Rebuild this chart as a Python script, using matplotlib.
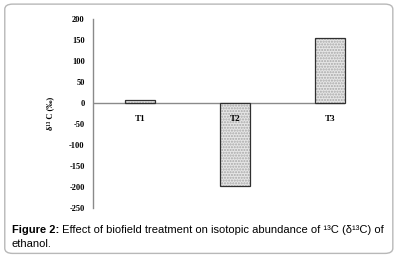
import matplotlib.pyplot as plt
from matplotlib.patches import FancyBboxPatch

# 数据
groups = ["T1", "T2", "T3"]
delta13c = [6, -198, 155]
y_ticks = [200, 150, 100, 50, 0, -50, -100, -150, -200, -250]

serif = ["Liberation Serif", "DejaVu Serif"]
sans = ["Liberation Sans", "DejaVu Sans"]

fig = plt.figure(figsize=(3.98, 2.57), dpi=100)

# 外框
frame = FancyBboxPatch((0.012, 0.014), 0.975, 0.97, boxstyle="round,pad=0,rounding_size=0.02",
                       transform=fig.transFigure, facecolor="white", edgecolor="#b8b8b8",
                       linewidth=1.0, zorder=-5)
fig.add_artist(frame)

ax = fig.add_axes([0.2337, 0.1907, 0.6331, 0.7353])
ax.set_facecolor("none")

x = list(range(len(groups)))
# 点状填充
fill_bars = ax.bar(x, delta13c, width=0.32, color="#e6e6e6", edgecolor="#a8a8a8", hatch="......",
                   linewidth=0, zorder=2)
edge_bars = ax.bar(x, delta13c, width=0.32, fill=False, edgecolor="#303030", linewidth=0.9, zorder=3)
for b in list(fill_bars) + list(edge_bars):
    b.set_clip_on(False)

ax.axhline(0, color="#8a8a8a", linewidth=1.0, zorder=1)
ax.set_xlim(-0.495, 2.16)
ax.set_ylim(-250, 200)
ax.set_xticks([])
ax.set_yticks(y_ticks)
ax.set_yticklabels([str(v) for v in y_ticks], family=serif, fontweight="bold", fontsize=6)
ax.tick_params(axis="y", length=0, pad=6)
for s in ["top", "right", "bottom"]:
    ax.spines[s].set_visible(False)
ax.spines["left"].set_color("#8a8a8a")
ax.spines["left"].set_linewidth(1.0)

# 类别标签
for i, g in enumerate(groups):
    ax.text(i, -37, g, ha="center", va="center", family=serif, fontweight="bold", fontsize=6.5)

ax.set_ylabel("δ¹³ C (‰)", family=serif, fontweight="bold", fontsize=6, labelpad=11)

# 图注
t = fig.text(0.03, 0.094, "Figure 2:", family=sans, fontweight="bold", fontsize=8, va="baseline")
ax.annotate(" Effect of biofield treatment on isotopic abundance of ¹³C (δ¹³C) of",
            xy=(1, 0), xycoords=t, va="bottom", ha="left", family=sans, fontsize=8,
            annotation_clip=False)
fig.text(0.03, 0.04, "ethanol.", family=sans, fontsize=8, va="baseline")

fig.savefig("out.png", dpi=100)
